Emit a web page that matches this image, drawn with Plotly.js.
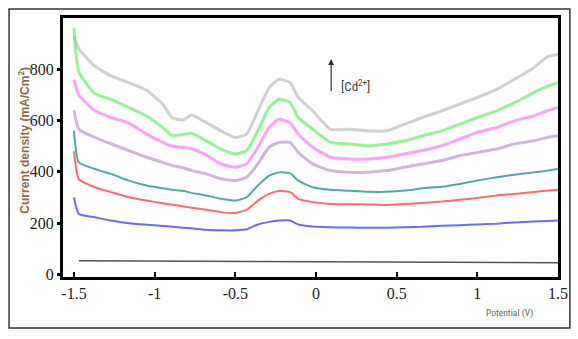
<!DOCTYPE html>
<html>
<head>
<meta charset="utf-8">
<script src="https://cdn.plot.ly/plotly-3.0.1.min.js"></script>
<style>html,body{margin:0;padding:0;background:#fff;}#chart{width:578px;height:339px;}</style>
</head>
<body>
<div id="chart"></div>
<script>
// Potential (V)
const potential = [-1.5,-1.47,-1.37,-1.27,-1.16,-1.05,-0.95,-0.89,-0.82,-0.77,-0.68,-0.59,-0.5,-0.43,-0.36,-0.29,-0.23,-0.16,-0.11,-0.02,0.09,0.21,0.32,0.44,0.55,0.66,0.78,0.89,1.0,1.12,1.23,1.35,1.44,1.5];
// Current density (mA/Cm2), one series per Cd2+ concentration (top to bottom)
const grayCurve    = [930,880,812,774,748,718,664,610,603,622,592,560,534,547,638,728,761,748,690,638,566,566,560,560,586,612,638,664,690,722,761,806,851,858];
const greenCurve   = [960,790,705,683,651,618,573,541,547,550,521,489,470,483,560,651,683,670,612,566,515,509,502,509,521,541,560,586,612,638,670,709,735,748];
const magentaCurve = [760,700,638,612,590,547,515,500,495,490,465,431,418,431,496,573,605,592,547,496,457,450,450,457,470,483,502,528,554,573,599,618,640,651];
const purpleCurve  = [640,566,534,509,483,457,437,425,415,405,392,373,366,379,431,496,515,515,476,431,405,398,398,405,418,431,444,463,476,489,509,521,535,541];
const tealCurve    = [560,437,411,392,366,347,336,330,325,318,308,295,288,301,347,385,398,394,366,340,330,326,322,322,327,336,342,353,366,379,389,398,405,411];
const redCurve     = [480,372,340,321,301,288,278,272,265,260,252,243,240,252,288,314,325,321,295,282,275,274,273,271,275,279,284,291,298,308,314,321,327,330];
const blueCurve    = [300,236,223,210,200,194,189,186,182,180,174,172,172,176,195,205,210,210,195,187,184,183,182,182,184,186,190,192,195,198,203,206,208,210];
// Blank (no Cd2+)
const blankPotential = [-1.47,-0.5,0.5,1.5];
const blankCurve     = [53,51,50,46];

const xTickVals = [-1.5,-1,-0.5,0,0.5,1,1.5];
const xTickText = ['-1.5','-1','-0.5','0','0.5','1','1.5'];
const yTickVals = [0,200,400,600,800];

const SERIF = '"Times New Roman", "Liberation Serif", Times, serif';
const SANS = 'Arial, "Liberation Sans", Helvetica, sans-serif';
const NARROW = '"Arial Narrow", "Liberation Sans Narrow", "Roboto Condensed", Arial, sans-serif';

function tr(y, color, width, opacity){
  return {x: potential, y: y, type:'scatter', mode:'lines',
    line:{color:color, width:width, shape:'spline', smoothing:0.5},
    opacity:opacity, hoverinfo:'skip', showlegend:false};
}
const data = [
  tr(grayCurve,'#a9a9a9',3,0.55),
  tr(greenCurve,'#4cec4c',3,0.6),
  tr(magentaCurve,'#ff55ff',3,0.55),
  tr(purpleCurve,'#a878b8',3,0.55),
  tr(tealCurve,'#3f9f9c',2,0.9),
  tr(redCurve,'#ff5a5a',2,0.9),
  tr(blueCurve,'#5a5aff',2,0.9),
  {x: blankPotential, y: blankCurve, type:'scatter', mode:'lines',
   line:{color:'#555', width:1.5}, hoverinfo:'skip', showlegend:false}
];

const layout = {
  width:578, height:339,
  margin:{l:63, r:20, t:18, b:62},
  paper_bgcolor:'#fff', plot_bgcolor:'#fff',
  xaxis:{range:[-1.568,1.5], tickvals:xTickVals, ticktext:xTickText,
    ticks:'inside', ticklen:5, tickwidth:2, tickcolor:'#000',
    showline:true, mirror:true, linewidth:3, linecolor:'#000',
    showgrid:false, zeroline:false,
    tickfont:{family:SERIF, size:16, color:'#222'}},
  yaxis:{range:[-10,1000], tickvals:yTickVals,
    ticks:'outside', ticklen:3, tickwidth:3, tickcolor:'#000',
    showline:true, mirror:true, linewidth:3, linecolor:'#000',
    showgrid:false, zeroline:false,
    tickfont:{family:SERIF, size:16, color:'#222'}},
  annotations:[
    {xref:'paper', yref:'paper', x:-0.079, y:0.53, textangle:-90,
     text:'Current density (mA/Cm<sup>2</sup>)', showarrow:false,
     xanchor:'center', yanchor:'middle',
     font:{family:SANS, size:12, color:'#8a6c48', weight:'bold'}},
    {xref:'paper', yref:'paper', x:0.903, y:-0.139, text:'Potential (V)',
     showarrow:false, xanchor:'center', yanchor:'middle',
     font:{family:NARROW, size:9.5, color:'#666'}},
    {xref:'x', yref:'y', x:0.094, y:840, ax:0, ay:42, axref:'pixel', ayref:'pixel',
     text:' ', showarrow:true, arrowhead:2, arrowsize:1, arrowwidth:1.2, arrowcolor:'#333'},
    {xref:'x', yref:'y', x:0.245, y:735, text:'[Cd<sup>2+</sup>]', showarrow:false,
     xanchor:'center', yanchor:'middle',
     font:{family:NARROW, size:13, color:'#444'}}
  ],
  shapes:[
    {type:'rect', xref:'paper', yref:'paper', x0:-0.109, x1:1.024, y0:-0.197, y1:1.035,
     line:{color:'#333', width:1.5}, fillcolor:'rgba(0,0,0,0)'}
  ]
};
Plotly.newPlot('chart', data, layout, {staticPlot:true, displayModeBar:false});
</script>
</body>
</html>
